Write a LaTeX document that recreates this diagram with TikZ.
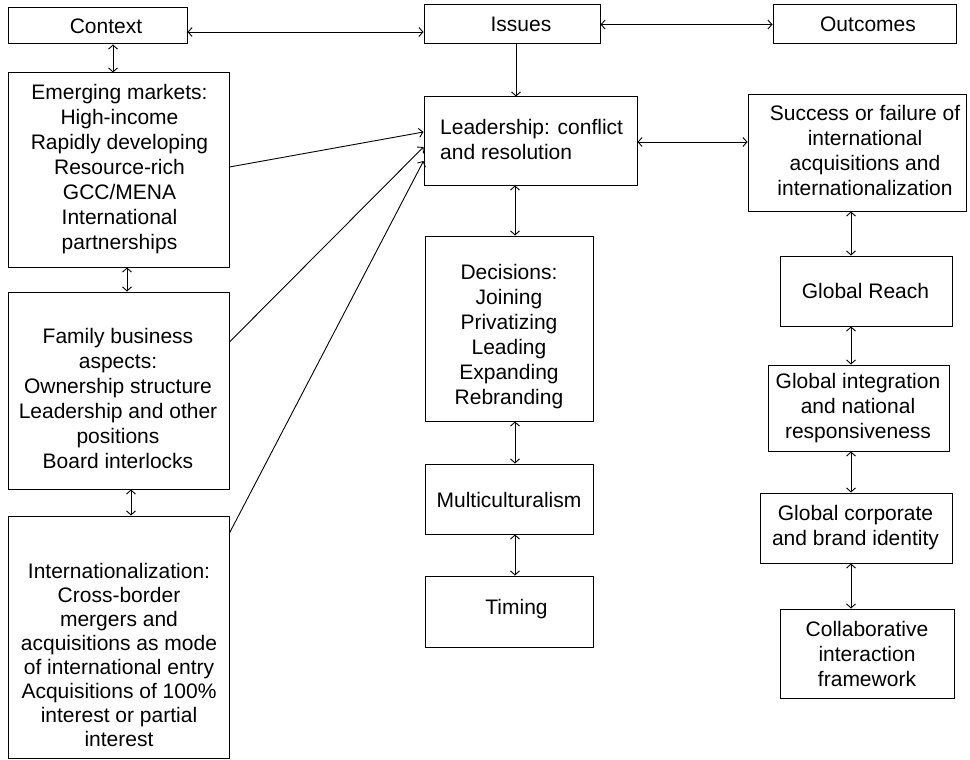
\documentclass[tikz,border=0pt]{standalone}
\usepackage{fontspec}
\setmainfont{Liberation Sans}
\usetikzlibrary{arrows.meta}
\begin{document}
\begin{tikzpicture}[x=1pt,y=-1pt,
  box/.style={draw=black,line width=1pt,inner sep=0pt,rectangle},
  txt/.style={inner sep=0pt,align=center,font=\fontsize{21}{25}\selectfont},
  arr/.style={line width=0.9pt,-{Straight Barb[length=4pt,width=9pt]}},
  darr/.style={line width=0.9pt,{Straight Barb[length=4pt,width=9pt]}-{Straight Barb[length=4pt,width=9pt]}},
  bw/.style 2 args={minimum width=#1,minimum height=#2}]
\useasboundingbox (0,0) rectangle (970,760);
% boxes
\node[box,bw={179pt}{36pt}] (ctx) at (97.5,26) {};
\node[box,bw={176pt}{39pt}] (iss) at (512,24.5) {};
\node[box,bw={183pt}{39pt}] (out) at (864.5,24.5) {};
\node[box,bw={221pt}{194pt}] (em) at (118.5,170) {};
\node[box,bw={221pt}{197pt}] (fam) at (118.5,390.5) {};
\node[box,bw={221pt}{242pt}] (intl) at (118.5,637) {};
\node[box,bw={213pt}{88pt}] (lead) at (530.5,141) {};
\node[box,bw={168pt}{185pt}] (dec) at (509,328.5) {};
\node[box,bw={168pt}{70pt}] (mul) at (509,499) {};
\node[box,bw={168pt}{71pt}] (tim) at (509,611.5) {};
\node[box,bw={218pt}{116pt}] (suc) at (857,153) {};
\node[box,bw={172pt}{70pt}] (gr) at (866,291) {};
\node[box,bw={181pt}{86pt}] (gi) at (858.5,408) {};
\node[box,bw={192pt}{70pt}] (gc) at (856,528) {};
\node[box,bw={174pt}{89pt}] (col) at (867,653.5) {};
% texts
\node[txt] (tctx) at (106,26) {Context};
\node[txt] (tiss) at (521,24) {Issues};
\node[txt] (tout) at (868,24) {Outcomes};
\node[txt,align=left,anchor=west] (tlead) at (440,139.5) {Leadership: conflict\\and resolution};
\node[txt] (tsuc) at (865,150) {Success or failure of\\international\\acquisitions and\\internationalization};
\node[txt] (tem) at (119.5,169) {Emerging markets:\\High-income\\Rapidly developing\\Resource-rich\\GCC/MENA\\International\\partnerships};
\node[txt] (tfam) at (118,398.5) {Family business\\aspects:\\Ownership structure\\Leadership and other\\positions\\Board interlocks};
\node[txt,font=\fontsize{21}{24}\selectfont] (tintl) at (119,655) {Internationalization:\\Cross-border\\mergers and\\acquisitions as mode\\of international entry\\Acquisitions of 100\%\\interest or partial\\interest};
\node[txt] (tdec) at (509,337) {Decisions:\\Joining\\Privatizing\\Leading\\Expanding\\Rebranding};
\node[txt] (tmul) at (509,500) {Multiculturalism};
\node[txt] (ttim) at (516.5,609) {Timing};
\node[txt] (tgr) at (865.5,291) {Global Reach};
\node[txt] (tgi) at (858,408) {Global integration\\and national\\responsiveness};
\node[txt] (tgc) at (855.5,528) {Global corporate\\and brand identity};
\node[txt] (tcol) at (867,654) {Collaborative\\interaction\\framework};
% connectors
\draw[darr] (ctx.east |- 0,32) -- (iss.west |- 0,32);
\draw[darr] (iss.east) -- (out.west);
\draw[arr] (iss.south -| 516,0) -- (lead.north -| 516,0);
\draw[darr] (lead.east |- 0,142) -- (suc.west |- 0,142);
\draw[darr] (ctx.south -| 113,0) -- (em.north -| 113,0);
\draw[darr] (em.south -| 127,0) -- (fam.north -| 127,0);
\draw[darr] (fam.south -| 131,0) -- (intl.north -| 131,0);
\draw[darr] (lead.south -| 515,0) -- (dec.north -| 515,0);
\draw[darr] (dec.south -| 515,0) -- (mul.north -| 515,0);
\draw[darr] (mul.south -| 515,0) -- (tim.north -| 515,0);
\draw[darr] (suc.south -| 851,0) -- (gr.north -| 851,0);
\draw[darr] (gr.south -| 851,0) -- (gi.north -| 851,0);
\draw[darr] (gi.south -| 851,0) -- (gc.north -| 851,0);
\draw[darr] (gc.south -| 851,0) -- (col.north -| 851,0);
\draw[arr] (em.east |- 0,167) -- (lead.west |- 0,132);
\draw[arr] (fam.east |- 0,342) -- (lead.west |- 0,147);
\draw[arr] (intl.east |- 0,533) -- (lead.west |- 0,161);
\end{tikzpicture}
\end{document}
